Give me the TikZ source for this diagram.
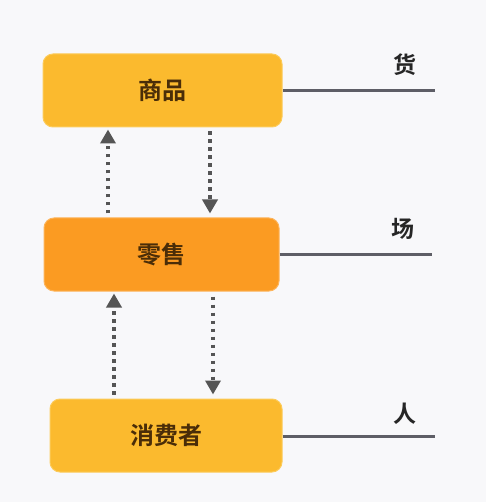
\documentclass[tikz,border=0pt]{standalone}
\usepackage{fontspec}
\newfontfamily\cjk{Noto Sans CJK SC}[BoldFont={Noto Sans CJK SC Bold}]
\usetikzlibrary{arrows.meta}
\definecolor{bg}{HTML}{F8F8FA}
\definecolor{gold}{HTML}{FBBA2E}
\definecolor{goldedge}{HTML}{FCCB5A}
\definecolor{orng}{HTML}{FB9B22}
\definecolor{orngedge}{HTML}{FDB45A}
\definecolor{txt}{HTML}{4A2D08}
\definecolor{lin}{HTML}{5E5E66}
\definecolor{arr}{HTML}{555555}
\tikzset{
  box/.style={rounded corners=10pt, line width=1pt, inner sep=0pt,
    font=\cjk\bfseries\fontsize{24}{28}\selectfont, text=txt},
  lbl/.style={font=\cjk\bfseries\fontsize{23}{27}\selectfont, text=black!85},
  side/.style={draw=lin, line width=3pt},
  flow/.style={draw=arr, line width=3.5pt, dash pattern=on 3.5pt off 4.5pt,
    -{Triangle[length=14pt,width=15pt]}}
}
\begin{document}
\begin{tikzpicture}[x=1pt,y=-1pt]
\fill[bg] (0,0) rectangle (486,502);
\useasboundingbox (0,0) rectangle (486,502);
\node[box, fill=gold, draw=goldedge, minimum width=239pt, minimum height=73pt] (goods) at (162.5,90.5) {商品};
\node[box, fill=orng, draw=orngedge, minimum width=235pt, minimum height=73pt] (retail) at (161.5,254.5) {零售};
\node[box, fill=gold, draw=goldedge, minimum width=232pt, minimum height=73pt] (consumer) at (166,435.5) {消费者};
\coordinate (g1) at (435,91);
\coordinate (g2) at (432,254);
\coordinate (g3) at (435,436);
\draw[side] (goods.east |- g1) -- (g1);
\draw[side] (retail.east |- g2) -- (g2);
\draw[side] (consumer.east |- g3) -- (g3);
\node[lbl] (huo) at (405,65) {货};
\node[lbl] (chang) at (403,229) {场};
\node[lbl] (ren) at (405,414) {人};
\coordinate (a1) at (108,0);
\coordinate (a2) at (210,0);
\coordinate (a3) at (114,0);
\coordinate (a4) at (213,0);
\draw[flow, shorten <=4pt, shorten >=2pt] (retail.north -| a1) -- (goods.south -| a1);
\draw[flow, shorten <=4pt, shorten >=4pt] (goods.south -| a2) -- (retail.north -| a2);
\draw[flow, shorten <=4pt, shorten >=2pt] (consumer.north -| a3) -- (retail.south -| a3);
\draw[flow, shorten <=5pt, shorten >=4pt] (retail.south -| a4) -- (consumer.north -| a4);
\end{tikzpicture}
\end{document}
